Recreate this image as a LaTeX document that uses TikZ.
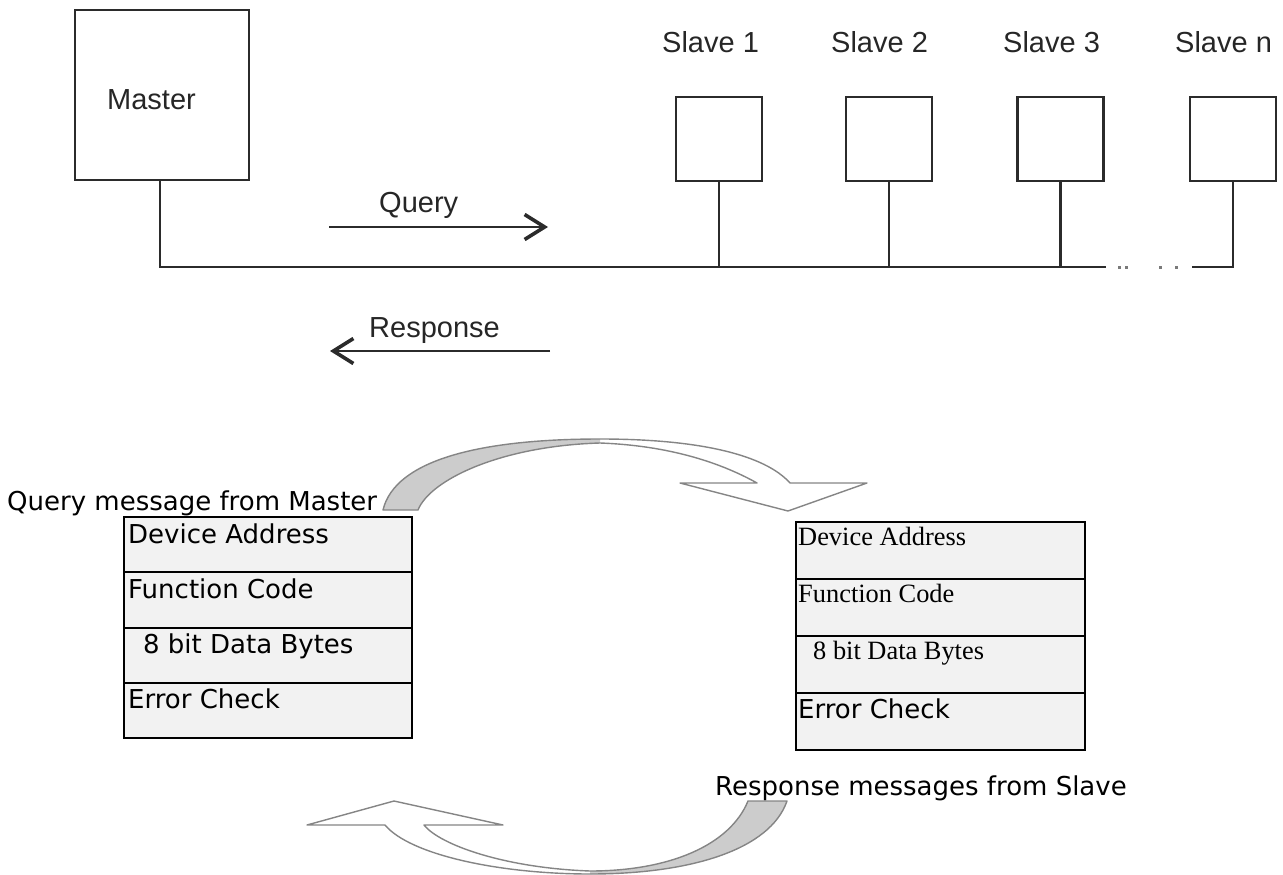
\documentclass[tikz,border=0pt]{standalone}
\usepackage{fontspec}
\usetikzlibrary{arrows.meta}
\newfontfamily\arialf{Liberation Sans}
\newfontfamily\verdf{DejaVu Sans}
\newfontfamily\romanf{Liberation Serif}

\definecolor{linedark}{HTML}{2B2B2B}
\definecolor{labeldark}{HTML}{262626}
\definecolor{cellfill}{HTML}{F2F2F2}
\definecolor{ribbonline}{HTML}{858585}
\definecolor{ribbonback}{HTML}{CCCCCC}
\definecolor{dotgray}{HTML}{7A7A7A}

% Ribbon arrow outlines (curve out, arrow head, curve back)
\def\queryribbon{(383,510)
  .. controls (395,460) and (480,439) .. (600,439)
  .. controls (700,439) and (765,455) .. (790,483)
  -- (867,483) -- (788,511) -- (680,483) -- (757,483)
  .. controls (730,468) and (680,446) .. (600,443)
  .. controls (500,446) and (430,480) .. (418,510) -- cycle}
\def\responseribbon{(748,801) -- (787,801)
  .. controls (770,850) and (690,874) .. (590,874)
  .. controls (500,874) and (410,855) .. (385,825)
  -- (307,825) -- (394,801) -- (503,825) -- (424,825)
  .. controls (440,845) and (505,868) .. (590,871)
  .. controls (670,871) and (730,845) .. (748,801) -- cycle}

\begin{document}
\begin{tikzpicture}[x=1pt,y=-1pt,
  unitbox/.style={draw=linedark, line width=2.4pt, inner sep=0pt},
  masterbox/.style={unitbox, minimum width=174pt, minimum height=170pt},
  slavebox/.style={unitbox, minimum width=86pt, minimum height=84pt},
  busline/.style={draw=linedark, line width=2.4pt},
  toplabel/.style={font=\arialf\fontsize{29}{34}\selectfont, text=labeldark, inner sep=0pt, anchor=base west},
  msgarrow/.style={draw=linedark, line width=2.8pt,
    -{Straight Barb[length=20pt,width=25pt,line width=3.6pt]}},
  leftrow/.style={draw=black, fill=cellfill, line width=2pt, inner sep=0pt, anchor=north west,
    minimum width=288pt, minimum height=55.25pt},
  rightrow/.style={draw=black, fill=cellfill, line width=2pt, inner sep=0pt, anchor=north west,
    minimum width=289pt, minimum height=57pt},
  sanscell/.style={font=\verdf\fontsize{26}{31}\selectfont, inner sep=0pt, anchor=base west},
  serifcell/.style={font=\romanf\fontsize{26.4}{31}\selectfont, inner sep=0pt, anchor=base west},
  ribbon/.style={draw=ribbonline, line width=1.4pt, line join=round}]
\useasboundingbox (0,0) rectangle (1283,875);

% ---------- bus topology ----------
\node[masterbox] (master) at (162,95) {};
\node[toplabel] (masterlbl) at (107,110) {Master};

\node[slavebox] (s1) at (719,139) {};
\node[slavebox] (s2) at (889,139) {};
\node[slavebox] (s3) at (1060.5,139) {};
\node[slavebox] (sn) at (1233,139) {};

\node[toplabel] (s1lbl) at (662,53) {Slave 1};
\node[toplabel] (s2lbl) at (831,53) {Slave 2};
\node[toplabel] (s3lbl) at (1003,53) {Slave 3};
\node[toplabel] (snlbl) at (1175,53) {Slave n};

\coordinate (busA) at (160,267);
\coordinate (busB) at (1106,267);
\coordinate (busC) at (1192,267);

\draw[busline] (master.south -| busA) -- (busA) -- (busB);
\draw[busline] (busC) -- (sn.south |- busC) -- (sn.south);
\foreach \s in {s1,s2,s3}
  \draw[busline] (\s.south) -- (\s.south |- busA);

% gap in the bus
\foreach \dx in {1118,1125,1159,1175}
  \fill[dotgray] (\dx,265.5) rectangle +(3,3);

% query / response directions
\coordinate (qa) at (329,227);
\coordinate (qb) at (548,227);
\draw[msgarrow] (qa) -- (qb);
\node[toplabel] (querylbl) at (379,212) {Query};

\coordinate (ra) at (550,351);
\coordinate (rb) at (330,351);
\draw[msgarrow] (ra) -- (rb);
\node[toplabel] (resplbl) at (369,337) {Response};

% ---------- query frame ----------
\node[leftrow] (q1) at (123,516) {};
\node[leftrow] (q2) at (123,571.25) {};
\node[leftrow] (q3) at (123,626.5) {};
\node[leftrow] (q4) at (123,681.75) {};
\node[sanscell] (q1t) at (128,543) {Device Address};
\node[sanscell] (q2t) at (128,598) {Function Code};
\node[sanscell] (q3t) at (143,653) {8 bit Data Bytes};
\node[sanscell] (q4t) at (128,708) {Error Check};
\node[sanscell] (qcap) at (7,510) {Query message from Master};

% ---------- response frame ----------
\node[rightrow] (r1) at (795,521) {};
\node[rightrow] (r2) at (795,578) {};
\node[rightrow] (r3) at (795,635) {};
\node[rightrow] (r4) at (795,692) {};
\node[serifcell] (r1t) at (798,545) {Device Address};
\node[serifcell] (r2t) at (798,602) {Function Code};
\node[serifcell] (r3t) at (813,659) {8 bit Data Bytes};
\node[sanscell] (r4t) at (798,718) {Error Check};
\node[sanscell] (rcap) at (715,795) {Response messages from Slave};

% ---------- curved ribbon arrows ----------
\fill[white] \queryribbon;
\begin{scope}
  \clip (0,0) rectangle (600,875);
  \fill[ribbonback] \queryribbon;
\end{scope}
\draw[ribbon] \queryribbon;

\fill[white] \responseribbon;
\begin{scope}
  \clip (590,0) rectangle (1283,875);
  \fill[ribbonback] \responseribbon;
\end{scope}
\draw[ribbon] \responseribbon;
\end{tikzpicture}
\end{document}
